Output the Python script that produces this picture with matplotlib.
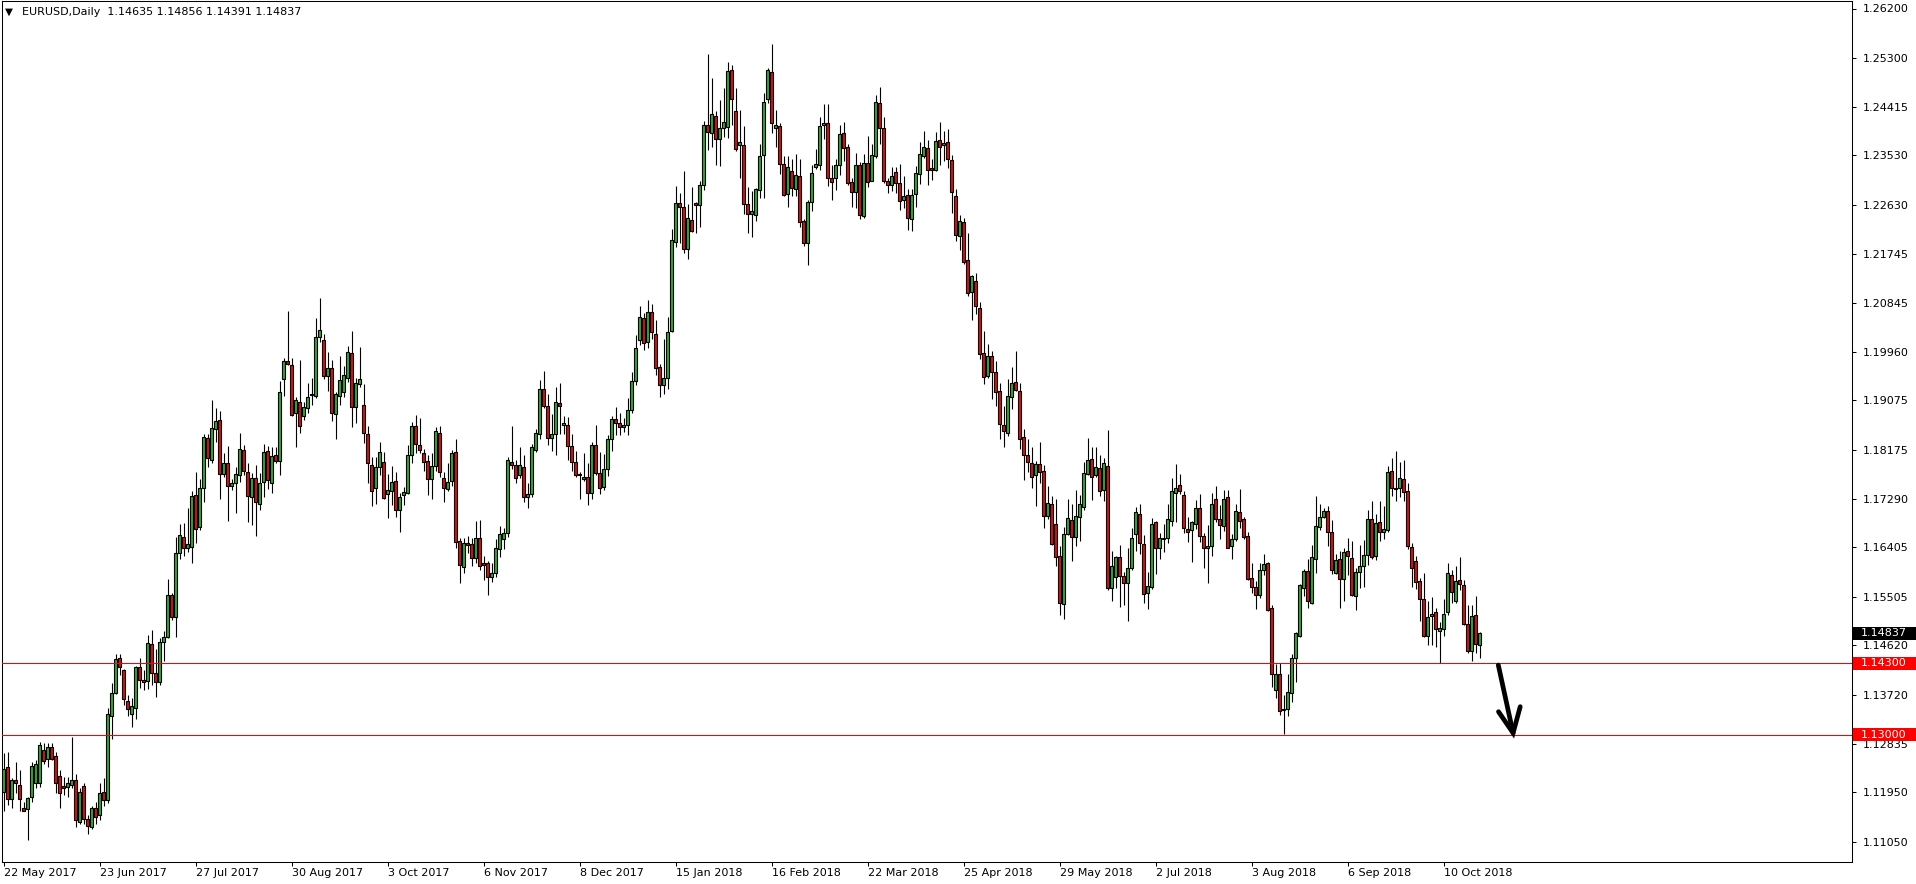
import matplotlib
matplotlib.use("Agg")
import matplotlib.pyplot as plt
from matplotlib.transforms import blended_transform_factory
from matplotlib.patches import Rectangle

# ---------------- data (EURUSD daily) ----------------
opens = [
1.1196,1.1241,1.1182,1.1218,1.1208,1.1167,1.1164,1.1186,1.1211,1.1212,
1.1272,1.1255,1.1277,1.1261,1.1224,1.1206,1.1204,1.1208,1.1218,1.1141,
1.1206,1.1146,1.1131,1.1167,1.1153,1.1195,1.1180,1.1334,1.1376,1.1440,
1.1417,1.1361,1.1338,1.1349,1.1423,1.1399,1.1397,1.1464,1.1411,1.1396,
1.1468,1.1477,1.1553,1.1513,1.1630,1.1660,1.1640,1.1641,1.1735,1.1677,
1.1749,1.1840,1.1800,1.1855,1.1871,1.1773,1.1793,1.1751,1.1757,1.1771,
1.1818,1.1777,1.1732,1.1766,1.1719,1.1760,1.1815,1.1758,1.1808,1.1798,
1.1946,1.1979,1.1971,1.1884,1.1905,1.1879,1.1893,1.1920,1.1915,1.2023,
1.2017,1.1952,1.1966,1.1882,1.1915,1.1923,1.1949,1.1993,1.1895,1.1937,
1.1899,1.1846,1.1790,1.1749,1.1786,1.1795,1.1737,1.1742,1.1760,1.1709,
1.1735,1.1740,1.1809,1.1861,1.1827,1.1811,1.1797,1.1765,1.1788,1.1848,
1.1767,1.1747,1.1761,1.1813,1.1652,1.1604,1.1649,1.1646,1.1621,1.1657,
1.1611,1.1611,1.1587,1.1594,1.1638,1.1655,1.1667,1.1795,1.1790,1.1771,
1.1786,1.1732,1.1738,1.1818,1.1847,1.1929,1.1897,1.1840,1.1847,1.1902,
1.1862,1.1862,1.1824,1.1795,1.1773,1.1765,1.1769,1.1740,1.1826,1.1776,
1.1750,1.1782,1.1838,1.1873,1.1866,1.1859,1.1862,1.1890,1.1942,1.2017,
1.2057,1.2014,1.2068,1.2028,1.1968,1.1935,1.1948,1.2034,1.2196,1.2266,
1.2259,1.2183,1.2235,1.2266,1.2262,1.2299,1.2408,1.2394,1.2425,1.2382,
1.2402,1.2405,1.2509,1.2433,1.2371,1.2371,1.2264,1.2246,1.2244,1.2290,
1.2353,1.2455,1.2505,1.2402,1.2406,1.2337,1.2282,1.2325,1.2292,1.2315,
1.2234,1.2194,1.2269,1.2332,1.2336,1.2408,1.2411,1.2312,1.2311,1.2335,
1.2393,1.2368,1.2305,1.2287,1.2335,1.2243,1.2339,1.2307,1.2351,1.2448,
1.2403,1.2306,1.2300,1.2322,1.2303,1.2271,1.2281,1.2237,1.2283,1.2319,
1.2351,1.2366,1.2330,1.2326,1.2381,1.2372,1.2377,1.2345,1.2280,1.2207,
1.2232,1.2163,1.2104,1.2125,1.2076,1.1994,1.1951,1.1989,1.1959,1.1925,
1.1863,1.1848,1.1913,1.1941,1.1925,1.1841,1.1809,1.1794,1.1771,1.1791,
1.1780,1.1698,1.1720,1.1683,1.1625,1.1537,1.1664,1.1690,1.1659,1.1695,
1.1713,1.1774,1.1801,1.1772,1.1785,1.1745,1.1788,1.1567,1.1587,1.1622,
1.1588,1.1575,1.1602,1.1664,1.1701,1.1646,1.1557,1.1568,1.1686,1.1639,
1.1656,1.1657,1.1688,1.1740,1.1753,1.1736,1.1673,1.1671,1.1682,1.1711,
1.1661,1.1640,1.1642,1.1728,1.1692,1.1680,1.1731,1.1642,1.1655,1.1704,
1.1691,1.1661,1.1584,1.1569,1.1553,1.1599,1.1611,1.1530,1.1381,1.1410,
1.1346,1.1347,1.1375,1.1439,1.1480,1.1567,1.1597,1.1539,1.1620,1.1678,
1.1696,1.1707,1.1668,1.1594,1.1619,1.1582,1.1634,1.1621,1.1551,1.1595,
1.1606,1.1626,1.1691,1.1624,1.1686,1.1668,1.1672,1.1780,1.1748,1.1749,
1.1764,1.1743,1.1641,1.1616,1.1580,1.1546,1.1480,1.1515,1.1523,1.1489,
1.1492,1.1522,1.1590,1.1542,1.1581,1.1572,1.1501,1.1451,1.1518,1.14635]

highs = [
1.1266,1.1269,1.1220,1.1250,1.1235,1.1178,1.1187,1.1250,1.1253,1.1287,
1.1284,1.1284,1.1284,1.1269,1.1235,1.1223,1.1223,1.1296,1.1228,1.1202,
1.1212,1.1153,1.1170,1.1178,1.1211,1.1220,1.1349,1.1393,1.1446,1.1446,
1.1420,1.1372,1.1367,1.1425,1.1440,1.1418,1.1481,1.1490,1.1455,1.1475,
1.1489,1.1582,1.1557,1.1660,1.1683,1.1684,1.1711,1.1742,1.1778,1.1764,
1.1846,1.1846,1.1909,1.1893,1.1889,1.1812,1.1825,1.1764,1.1786,1.1848,
1.1826,1.1793,1.1776,1.1790,1.1776,1.1828,1.1825,1.1823,1.1823,1.1942,
1.1984,1.2070,1.1984,1.1913,1.1981,1.1905,1.1940,1.1949,1.2058,1.2093,
1.2029,1.1996,1.1981,1.1923,1.1988,1.1970,1.2006,1.2033,1.1949,1.2004,
1.1937,1.1861,1.1805,1.1804,1.1832,1.1813,1.1773,1.1788,1.1778,1.1740,
1.1750,1.1826,1.1869,1.1881,1.1875,1.1820,1.1808,1.1811,1.1860,1.1861,
1.1778,1.1794,1.1817,1.1837,1.1657,1.1658,1.1661,1.1657,1.1689,1.1690,
1.1624,1.1616,1.1611,1.1655,1.1679,1.1675,1.1804,1.1861,1.1800,1.1823,
1.1808,1.1758,1.1828,1.1855,1.1944,1.1961,1.1920,1.1883,1.1931,1.1940,
1.1879,1.1877,1.1847,1.1815,1.1778,1.1812,1.1794,1.1831,1.1863,1.1813,
1.1810,1.1845,1.1880,1.1895,1.1885,1.1875,1.1911,1.1959,1.2026,1.2080,
1.2067,1.2090,1.2083,1.2054,1.1973,1.2020,1.2059,1.2220,1.2297,1.2285,
1.2325,1.2265,1.2295,1.2268,1.2306,1.2415,1.2537,1.2494,1.2434,1.2454,
1.2476,1.2523,1.2518,1.2476,1.2435,1.2406,1.2296,1.2288,1.2294,1.2373,
1.2466,1.2511,1.2555,1.2435,1.2411,1.2352,1.2351,1.2346,1.2355,1.2346,
1.2238,1.2271,1.2335,1.2365,1.2422,1.2446,1.2446,1.2335,1.2346,1.2408,
1.2414,1.2373,1.2312,1.2358,1.2341,1.2355,1.2388,1.2373,1.2462,1.2478,
1.2422,1.2311,1.2331,1.2331,1.2337,1.2316,1.2291,1.2292,1.2333,1.2377,
1.2398,1.2381,1.2346,1.2395,1.2414,1.2398,1.2401,1.2354,1.2291,1.2245,
1.2239,1.2211,1.2135,1.2139,1.2086,1.2033,1.2010,1.1997,1.1980,1.1939,
1.1898,1.1946,1.1969,1.1998,1.1940,1.1855,1.1838,1.1823,1.1797,1.1831,
1.1790,1.1751,1.1734,1.1728,1.1642,1.1678,1.1728,1.1719,1.1745,1.1736,
1.1796,1.1840,1.1822,1.1822,1.1809,1.1802,1.1853,1.1633,1.1625,1.1645,
1.1596,1.1639,1.1676,1.1714,1.1720,1.1663,1.1596,1.1693,1.1688,1.1666,
1.1683,1.1720,1.1767,1.1791,1.1773,1.1743,1.1696,1.1688,1.1726,1.1737,
1.1666,1.1681,1.1739,1.1752,1.1717,1.1745,1.1745,1.1664,1.1719,1.1747,
1.1696,1.1669,1.1611,1.1579,1.1611,1.1628,1.1614,1.1536,1.1428,1.1430,
1.1372,1.1410,1.1446,1.1486,1.1573,1.1601,1.1620,1.1645,1.1733,1.1719,
1.1711,1.1716,1.1690,1.1628,1.1634,1.1640,1.1658,1.1651,1.1603,1.1645,
1.1654,1.1709,1.1724,1.1701,1.1725,1.1716,1.1788,1.1803,1.1816,1.1795,
1.1800,1.1758,1.1648,1.1624,1.1585,1.1594,1.1543,1.1550,1.1530,1.1505,
1.1547,1.1611,1.1600,1.1606,1.1622,1.1581,1.1535,1.1536,1.1551,1.14856]

lows = [
1.1160,1.1172,1.1167,1.1193,1.1160,1.1160,1.1109,1.1178,1.1202,1.1204,
1.1246,1.1240,1.1253,1.1194,1.1166,1.1190,1.1187,1.1202,1.1131,1.1137,
1.1138,1.1119,1.1129,1.1138,1.1144,1.1170,1.1176,1.1291,1.1373,1.1408,
1.1353,1.1333,1.1313,1.1329,1.1384,1.1381,1.1382,1.1390,1.1369,1.1390,
1.1434,1.1475,1.1508,1.1478,1.1619,1.1624,1.1632,1.1612,1.1649,1.1671,
1.1722,1.1786,1.1793,1.1831,1.1728,1.1769,1.1689,1.1745,1.1703,1.1760,
1.1772,1.1687,1.1681,1.1661,1.1708,1.1731,1.1746,1.1740,1.1794,1.1772,
1.1915,1.1972,1.1879,1.1822,1.1849,1.1872,1.1884,1.1899,1.1911,1.2014,
1.1947,1.1925,1.1870,1.1838,1.1899,1.1914,1.1941,1.1860,1.1866,1.1932,
1.1830,1.1758,1.1715,1.1720,1.1772,1.1729,1.1694,1.1717,1.1696,1.1669,
1.1717,1.1737,1.1794,1.1811,1.1812,1.1780,1.1735,1.1729,1.1780,1.1769,
1.1723,1.1742,1.1752,1.1640,1.1575,1.1593,1.1630,1.1606,1.1612,1.1599,
1.1581,1.1554,1.1578,1.1586,1.1622,1.1638,1.1660,1.1783,1.1757,1.1766,
1.1722,1.1712,1.1731,1.1813,1.1837,1.1894,1.1827,1.1815,1.1809,1.1846,
1.1846,1.1800,1.1780,1.1769,1.1729,1.1761,1.1717,1.1729,1.1771,1.1738,
1.1745,1.1770,1.1815,1.1845,1.1845,1.1850,1.1845,1.1885,1.1935,1.2008,
1.1999,1.2003,1.2019,1.1954,1.1914,1.1919,1.1929,1.2031,1.2187,1.2194,
1.2176,1.2165,1.2214,1.2212,1.2222,1.2290,1.2363,1.2369,1.2335,1.2334,
1.2387,1.2385,1.2409,1.2361,1.2312,1.2246,1.2211,1.2205,1.2234,1.2276,
1.2276,1.2448,1.2393,1.2369,1.2320,1.2279,1.2260,1.2280,1.2280,1.2222,
1.2188,1.2154,1.2252,1.2328,1.2326,1.2383,1.2297,1.2272,1.2290,1.2317,
1.2343,1.2299,1.2260,1.2258,1.2238,1.2240,1.2296,1.2306,1.2349,1.2373,
1.2303,1.2284,1.2288,1.2285,1.2254,1.2257,1.2218,1.2215,1.2260,1.2301,
1.2348,1.2300,1.2308,1.2324,1.2336,1.2342,1.2330,1.2249,1.2197,1.2181,
1.2155,1.2097,1.2054,1.2065,1.1983,1.1938,1.1948,1.1910,1.1897,1.1838,
1.1822,1.1842,1.1891,1.1925,1.1819,1.1763,1.1777,1.1749,1.1716,1.1757,
1.1675,1.1691,1.1645,1.1607,1.1517,1.1510,1.1662,1.1616,1.1642,1.1652,
1.1708,1.1772,1.1726,1.1769,1.1734,1.1725,1.1562,1.1542,1.1566,1.1531,
1.1536,1.1506,1.1599,1.1634,1.1628,1.1539,1.1528,1.1565,1.1591,1.1619,
1.1631,1.1648,1.1680,1.1687,1.1737,1.1666,1.1650,1.1613,1.1674,1.1650,
1.1602,1.1575,1.1625,1.1687,1.1655,1.1670,1.1639,1.1620,1.1651,1.1675,
1.1656,1.1581,1.1557,1.1528,1.1549,1.1590,1.1525,1.1387,1.1366,1.1336,
1.1301,1.1334,1.1360,1.1396,1.1478,1.1551,1.1530,1.1537,1.1594,1.1672,
1.1694,1.1643,1.1591,1.1591,1.1530,1.1543,1.1590,1.1551,1.1526,1.1566,
1.1569,1.1609,1.1620,1.1618,1.1651,1.1655,1.1669,1.1733,1.1724,1.1731,
1.1724,1.1638,1.1569,1.1565,1.1506,1.1478,1.1463,1.1463,1.1460,1.1430,
1.1480,1.1518,1.1540,1.1539,1.1563,1.1500,1.1449,1.1433,1.1448,1.14391]

closes = [
1.1237,1.1182,1.1218,1.1211,1.1182,1.1161,1.1184,1.1243,1.1246,1.1281,
1.1252,1.1277,1.1256,1.1211,1.1194,1.1203,1.1211,1.1218,1.1144,1.1195,
1.1147,1.1133,1.1167,1.1150,1.1193,1.1180,1.1337,1.1376,1.1438,1.1423,
1.1364,1.1346,1.1352,1.1423,1.1399,1.1396,1.1466,1.1411,1.1396,1.1468,
1.1478,1.1553,1.1514,1.1630,1.1662,1.1640,1.1646,1.1734,1.1674,1.1748,
1.1840,1.1802,1.1857,1.1870,1.1773,1.1794,1.1752,1.1758,1.1773,1.1820,
1.1780,1.1734,1.1766,1.1723,1.1758,1.1813,1.1762,1.1806,1.1798,1.1922,
1.1979,1.1974,1.1881,1.1908,1.1861,1.1895,1.1913,1.1917,1.2022,1.2035,
1.1952,1.1966,1.1885,1.1919,1.1944,1.1953,1.1995,1.1895,1.1940,1.1947,
1.1849,1.1793,1.1743,1.1786,1.1813,1.1730,1.1744,1.1760,1.1709,1.1732,
1.1741,1.1808,1.1861,1.1828,1.1818,1.1796,1.1765,1.1788,1.1852,1.1777,
1.1749,1.1760,1.1812,1.1650,1.1609,1.1649,1.1644,1.1621,1.1657,1.1607,
1.1609,1.1586,1.1593,1.1640,1.1664,1.1666,1.1799,1.1790,1.1767,1.1790,
1.1731,1.1738,1.1822,1.1849,1.1928,1.1898,1.1840,1.1847,1.1904,1.1898,
1.1866,1.1825,1.1795,1.1771,1.1772,1.1769,1.1740,1.1826,1.1776,1.1749,
1.1782,1.1838,1.1873,1.1866,1.1859,1.1862,1.1890,1.1943,1.2002,1.2059,
1.2012,1.2068,1.2031,1.1967,1.1936,1.1948,1.2032,1.2199,1.2266,1.2260,
1.2183,1.2239,1.2215,1.2262,1.2299,1.2408,1.2396,1.2428,1.2382,1.2402,
1.2414,1.2506,1.2455,1.2365,1.2377,1.2264,1.2246,1.2252,1.2291,1.2352,
1.2450,1.2508,1.2411,1.2408,1.2337,1.2281,1.2332,1.2294,1.2317,1.2232,
1.2193,1.2268,1.2320,1.2337,1.2406,1.2411,1.2311,1.2305,1.2335,1.2391,
1.2367,1.2303,1.2287,1.2335,1.2244,1.2339,1.2305,1.2354,1.2450,1.2402,
1.2306,1.2300,1.2315,1.2302,1.2270,1.2280,1.2239,1.2281,1.2321,1.2356,
1.2368,1.2326,1.2327,1.2380,1.2369,1.2375,1.2346,1.2287,1.2208,1.2233,
1.2160,1.2102,1.2133,1.2080,1.1991,1.1950,1.1989,1.1960,1.1923,1.1865,
1.1851,1.1916,1.1939,1.1926,1.1837,1.1808,1.1795,1.1769,1.1792,1.1778,
1.1697,1.1721,1.1646,1.1623,1.1539,1.1665,1.1693,1.1659,1.1697,1.1719,
1.1775,1.1799,1.1768,1.1787,1.1743,1.1793,1.1566,1.1606,1.1623,1.1589,
1.1575,1.1602,1.1657,1.1704,1.1648,1.1555,1.1570,1.1683,1.1639,1.1658,
1.1657,1.1692,1.1743,1.1749,1.1743,1.1675,1.1669,1.1687,1.1711,1.1661,
1.1640,1.1643,1.1720,1.1691,1.1681,1.1728,1.1640,1.1655,1.1707,1.1689,
1.1660,1.1583,1.1568,1.1553,1.1599,1.1610,1.1527,1.1410,1.1410,1.1342,
1.1344,1.1377,1.1440,1.1484,1.1572,1.1597,1.1542,1.1623,1.1679,1.1695,
1.1707,1.1668,1.1599,1.1617,1.1582,1.1631,1.1624,1.1553,1.1595,1.1606,
1.1627,1.1692,1.1622,1.1684,1.1668,1.1674,1.1777,1.1748,1.1746,1.1766,
1.1741,1.1642,1.1603,1.1578,1.1546,1.1480,1.1514,1.1520,1.1491,1.1494,
1.1520,1.1594,1.1559,1.1580,1.1574,1.1501,1.1451,1.1516,1.1464,1.14837]

date_labels = ["22 May 2017", "23 Jun 2017", "27 Jul 2017", "30 Aug 2017",
               "3 Oct 2017", "6 Nov 2017", "8 Dec 2017", "15 Jan 2018",
               "16 Feb 2018", "22 Mar 2018", "25 Apr 2018", "29 May 2018",
               "2 Jul 2018", "3 Aug 2018", "6 Sep 2018", "10 Oct 2018"]
label_step = 24  # bars between date labels

price_ticks = [1.26200, 1.25300, 1.24415, 1.23530, 1.22630, 1.21745, 1.20845,
               1.19960, 1.19075, 1.18175, 1.17290, 1.16405, 1.15505, 1.14620,
               1.13720, 1.12835, 1.11950, 1.11050]

level_lines = [1.14300, 1.13000]
symbol = "EURUSD,Daily"

# annotation arrow (bar index, price)
arrow_shaft_x = [373.7, 377.4]
arrow_shaft_y = [1.14264, 1.13027]
arrow_head_x = [373.75, 377.4, 379.18]
arrow_head_y = [1.13415, 1.13027, 1.13506]

# ---------------- figure ----------------
W, H = 1916, 884
fig = plt.figure(figsize=(W / 100, H / 100), dpi=100)
fig.patch.set_facecolor("white")

ax_left, ax_right = 2, 1852       # pixel columns
ax_top, ax_bottom = 1, 862        # pixel rows (from top)
ax = fig.add_axes([ax_left / W, (H - ax_bottom) / H,
                   (ax_right - ax_left) / W, (ax_bottom - ax_top) / H])
ax.set_facecolor("white")

n = len(closes)
xs = list(range(n))
bar_px = 4.0
x0 = -1.5 / bar_px
ax.set_xlim(x0, x0 + (ax_right - ax_left) / bar_px)
px_per_unit = 5500.0
y_top_price = 1.262 + (8.5 - ax_top) / px_per_unit
y_bot_price = 1.262 - (ax_bottom - 8.5) / px_per_unit
ax.set_ylim(y_bot_price, y_top_price)

GREEN = "#34A833"
RED = "#D81010"
bull = [c >= o for o, c in zip(opens, closes)]
colors = [GREEN if b else RED for b in bull]

# wicks
ax.vlines(xs, lows, highs, colors="black", linewidth=0.8, zorder=2)
# bodies
bottoms = [min(o, c) for o, c in zip(opens, closes)]
heights = [abs(c - o) for o, c in zip(opens, closes)]
ax.bar(xs, heights, bottom=bottoms, width=0.55, color=colors,
       edgecolor="black", linewidth=0.8, zorder=3)

# horizontal levels
for lv in level_lines:
    ax.axhline(lv, color="#FF0000", linewidth=0.75, zorder=4)

# arrow
ax.plot(arrow_shaft_x, arrow_shaft_y, color="black", linewidth=3.4,
        solid_capstyle="round", zorder=6, clip_on=False)
ax.plot(arrow_head_x, arrow_head_y, color="black", linewidth=3.4,
        solid_capstyle="round", solid_joinstyle="miter", zorder=6, clip_on=False)

# axes styling
for sp in ax.spines.values():
    sp.set_color("black")
    sp.set_linewidth(0.75)

ax.yaxis.tick_right()
ax.set_yticks(price_ticks)
ax.set_yticklabels([f"{p:.5f}" for p in price_ticks])
ax.tick_params(axis="y", direction="out", length=3, width=0.75, pad=5,
               labelsize=8, colors="black", left=False, right=True,
               labelleft=False, labelright=True)

ax.set_xticks([i * label_step for i in range(len(date_labels))])
ax.set_xticklabels(date_labels)
ax.tick_params(axis="x", direction="out", length=3, width=0.75, pad=1,
               labelsize=8, colors="black")
for lbl in ax.get_xticklabels():
    lbl.set_horizontalalignment("left")

# price tags on the right scale
trans = blended_transform_factory(ax.transAxes, ax.transData)
tag_w = (W - ax_right) / (ax_right - ax_left)
tag_h = 13 / px_per_unit
def price_tag(price, face):
    ax.add_patch(Rectangle((1.0 + 1 / (ax_right - ax_left), price - tag_h / 2),
                           tag_w, tag_h, transform=trans, facecolor=face,
                           edgecolor="none", clip_on=False, zorder=10))
    ax.text(1.0 + 9 / (ax_right - ax_left), price, f"{price:.5f}",
            transform=trans, color="white", fontsize=8, va="center",
            ha="left", clip_on=False, zorder=11)

price_tag(closes[-1], "black")
for lv in level_lines:
    price_tag(lv, "#FF0000")

# header
fig.text(5 / W, 1 - 12 / H, "\u25BC", fontsize=7.5, va="center", ha="left",
         color="black")
fig.text(22 / W, 1 - 12 / H,
         f"{symbol}  {opens[-1]:.5f} {highs[-1]:.5f} {lows[-1]:.5f} {closes[-1]:.5f}",
         fontsize=8, va="center", ha="left", color="black")

fig.savefig("out.png", dpi=100, facecolor="white")
